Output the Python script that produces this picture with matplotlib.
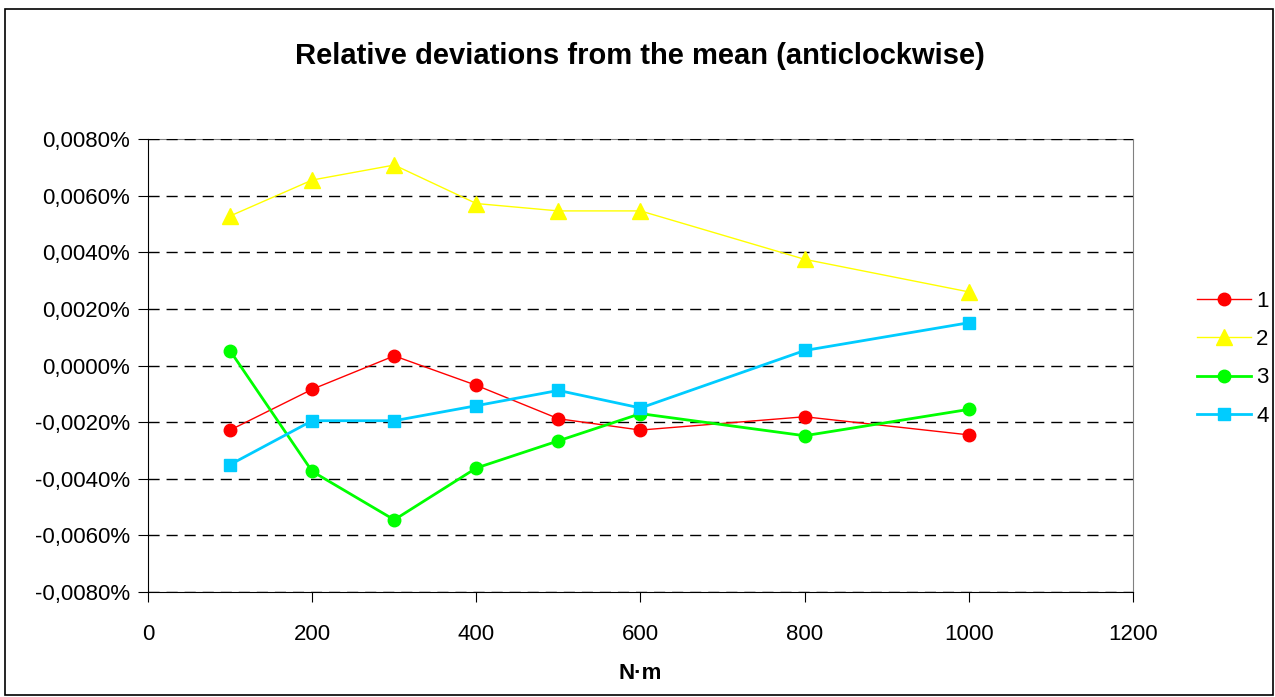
import matplotlib
matplotlib.use("Agg")
import matplotlib.pyplot as plt
from matplotlib.patches import Rectangle
from matplotlib.ticker import FuncFormatter, MultipleLocator

plt.rcParams['font.family'] = ['Liberation Sans', 'DejaVu Sans']

# torque steps (N·m) and relative deviations in percent
torque = [100, 200, 300, 400, 500, 600, 800, 1000]
dev_1 = [-0.00228, -0.00084, 0.00034, -0.00070, -0.00188, -0.00228, -0.00181, -0.00245]
dev_2 = [0.00528, 0.00655, 0.00708, 0.00572, 0.00546, 0.00546, 0.00375, 0.00260]
dev_3 = [0.00052, -0.00374, -0.00545, -0.00362, -0.00266, -0.00170, -0.00248, -0.00155]
dev_4 = [-0.00350, -0.00195, -0.00195, -0.00142, -0.00088, -0.00150, 0.00053, 0.00151]
labels = ["1", "2", "3", "4"]

fig = plt.figure(figsize=(12.75, 6.97), dpi=100)
ax = fig.add_axes([0.1161, 0.1506, 0.7725, 0.65])

ax.plot(torque, dev_1, color="#FF0000", lw=1.0, marker="o", ms=9, label=labels[0])
ax.plot(torque, dev_2, color="#FFFF00", lw=1.0, marker="^", ms=11, label=labels[1])
ax.plot(torque, dev_3, color="#00FF00", lw=2.0, marker="o", ms=9, label=labels[2])
ax.plot(torque, dev_4, color="#00CCFF", lw=2.0, marker="s", ms=8, label=labels[3])

ax.set_xlim(0, 1200)
ax.set_ylim(-0.008, 0.008)
ax.xaxis.set_major_locator(MultipleLocator(200))
ax.yaxis.set_major_locator(MultipleLocator(0.002))
ax.yaxis.set_major_formatter(FuncFormatter(lambda v, p: f"{v:.4f}%".replace(".", ",").replace("-0,0000", "0,0000")))
ax.grid(axis="y", color="black", linestyle=(0, (8, 5)), lw=1.0)
ax.set_axisbelow(True)

for s in ["top", "right"]:
    ax.spines[s].set_color("#808080")
    ax.spines[s].set_zorder(0.4)
ax.spines["left"].set_color("black")
ax.spines["bottom"].set_color("black")
ax.tick_params(axis="both", direction="out", length=7, labelsize=16)
ax.tick_params(axis="y", pad=6)
ax.tick_params(axis="x", pad=16)

ax.set_xlabel("N·m", fontsize=16, fontweight="bold", labelpad=13)
fig.suptitle("Relative deviations from the mean (anticlockwise)", fontsize=21,
             fontweight="bold", x=0.502, y=0.94)

ax.legend(loc="center left", bbox_to_anchor=(1.045, 0.515), frameon=False, fontsize=16,
          handlelength=2.4, labelspacing=0.78, handletextpad=0.25)

fig.patches.append(Rectangle((5 / 1275, 2 / 697), 1268 / 1275, 686 / 697,
                             transform=fig.transFigure, fill=False, edgecolor="black", lw=1.2))

fig.savefig("out.png", dpi=100)
